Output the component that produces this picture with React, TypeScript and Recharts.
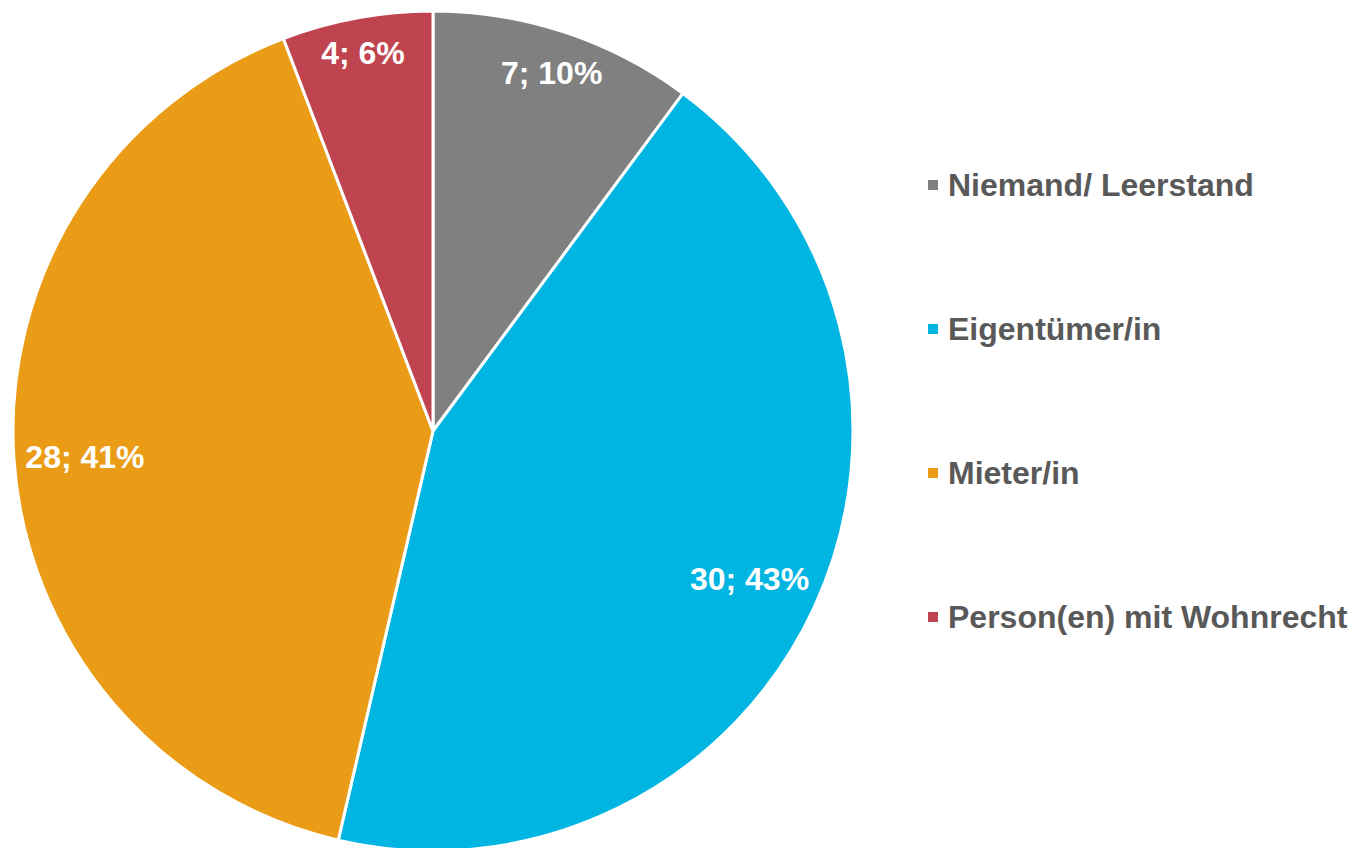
import { PieChart, Pie, Cell, Legend } from 'recharts';

// Wer wohnt in der Immobilie?
const categories = ['Niemand/ Leerstand', 'Eigentümer/in', 'Mieter/in', 'Person(en) mit Wohnrecht'];
const counts = [7, 30, 28, 4];
const percents = [10, 43, 41, 6];
const colors = ['#808080', '#00B5E2', '#EA9C17', '#C0444F'];

const data = categories.map((name, i) => ({
  name,
  value: counts[i],
  pct: percents[i],
}));

const FONT = '"Liberation Sans", Arial, sans-serif';
const RAD = Math.PI / 180;

// roughly like Excel's "inside end": keep the text box inside the rim
const renderLabel = (props: any) => {
  const { cx, cy, midAngle, outerRadius, index } = props;
  const text = `${counts[index]}; ${percents[index]}%`;
  const halfW = text.length * 8.6;
  const halfH = 16;
  const s = Math.abs(Math.cos(-midAngle * RAD));
  const c = Math.abs(Math.sin(-midAngle * RAD));
  const r = outerRadius - (s * halfW + c * halfH) - 10;
  const x = cx + r * Math.cos(-midAngle * RAD);
  const y = cy + r * Math.sin(-midAngle * RAD) + 2;
  return (
    <text
      x={x}
      y={y}
      fill="#ffffff"
      textAnchor="middle"
      dominantBaseline="central"
      style={{ fontFamily: FONT, fontSize: 32, fontWeight: 700 }}
    >
      {text}
    </text>
  );
};

const renderLegend = () => (
  <div style={{ fontFamily: FONT }}>
    {categories.map((name, i) => (
      <div
        key={name}
        style={{ display: 'flex', alignItems: 'center', height: 144 }}
      >
        <span
          style={{
            display: 'inline-block',
            width: 10,
            height: 10,
            backgroundColor: colors[i],
            marginRight: 10,
          }}
        />
        <span style={{ fontSize: 32, fontWeight: 700, color: '#595959', whiteSpace: 'nowrap', lineHeight: '36px' }}>
          {name}
        </span>
      </div>
    ))}
  </div>
);

export default function App() {
  return (
    <div style={{ position: 'absolute', left: 0, top: 0, width: 1352, height: 848, background: '#fff' }}>
      <PieChart width={1352} height={848} margin={{ top: 0, right: 0, bottom: 0, left: 0 }}>
        <Pie
          data={data}
          dataKey="value"
          nameKey="name"
          cx={433}
          cy={431}
          outerRadius={420}
          startAngle={90}
          endAngle={-270}
          stroke="#ffffff"
          strokeWidth={3}
          labelLine={false}
          label={renderLabel}
          isAnimationActive={false}
        >
          {data.map((d, i) => (
            <Cell key={d.name} fill={colors[i]} />
          ))}
        </Pie>
        <Legend
          layout="vertical"
          align="right"
          verticalAlign="top"
          content={renderLegend}
          wrapperStyle={{ left: 928, top: 113, width: 424 }}
        />
      </PieChart>
    </div>
  );
}
